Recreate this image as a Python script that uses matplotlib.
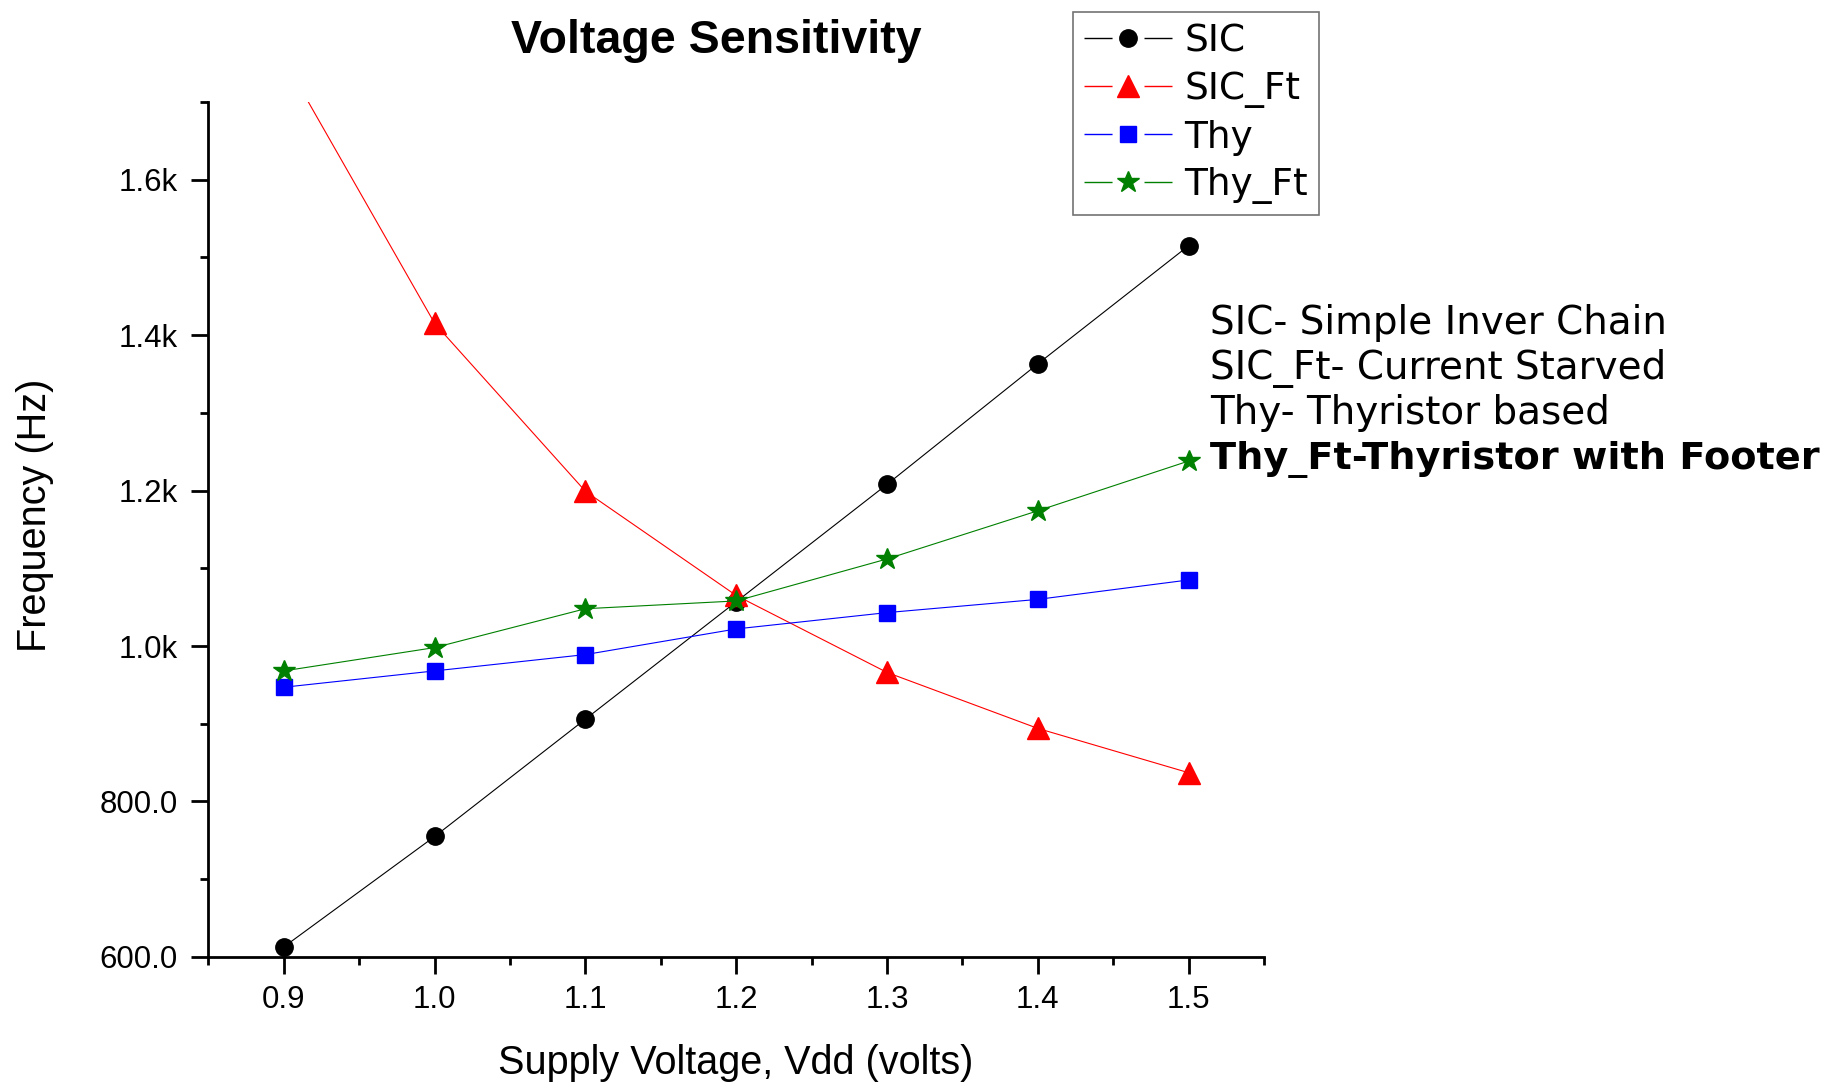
import matplotlib
matplotlib.use('Agg')
import matplotlib.pyplot as plt
from matplotlib.lines import Line2D
from matplotlib.ticker import MultipleLocator, FuncFormatter

vdd = [0.9, 1.0, 1.1, 1.2, 1.3, 1.4, 1.5]
sic = [613, 755, 906, 1057, 1208, 1363, 1515]
sic_ft = [1755, 1415, 1199, 1065, 966, 894, 837]
thy = [947, 968, 989, 1022, 1043, 1060, 1085]
thy_ft = [968, 998, 1048, 1058, 1112, 1174, 1238]

names = ['SIC', 'SIC_Ft', 'Thy', 'Thy_Ft']
notes = ['SIC- Simple Inver Chain', 'SIC_Ft- Current Starved',
         'Thy- Thyristor based', 'Thy_Ft-Thyristor with Footer']

plt.rcParams['font.family'] = 'Liberation Sans'

fig = plt.figure(figsize=(18.37, 10.84), dpi=100)
ax = fig.add_axes([0.1135, 0.1172, 0.5746, 0.7888])

styles = [('black', 'o', 12.5), ('red', '^', 16), ('blue', 's', 11.5), ('green', '*', 16.5)]
series = [sic, sic_ft, thy, thy_ft]
for vals, (c, m, ms) in zip(series, styles):
    ax.plot(vdd, vals, color=c, lw=0.8, marker=m, ms=ms, mec=c)

ax.set_xlim(0.85, 1.55)
ax.set_ylim(600, 1700)
ax.xaxis.set_major_locator(MultipleLocator(0.1))
ax.xaxis.set_minor_locator(MultipleLocator(0.05))
ax.yaxis.set_major_locator(MultipleLocator(200))
ax.yaxis.set_minor_locator(MultipleLocator(100))
ax.xaxis.set_major_formatter(FuncFormatter(lambda v, p: f'{v:.1f}'))
ax.yaxis.set_major_formatter(FuncFormatter(
    lambda v, p: f'{v / 1000:.1f}k' if v >= 1000 else f'{v:.1f}'))

for s in ['top', 'right']:
    ax.spines[s].set_visible(False)
for s in ['left', 'bottom']:
    ax.spines[s].set_linewidth(2)
ax.tick_params(which='major', direction='out', length=12, width=2, labelsize=22.5)
ax.tick_params(which='minor', direction='out', length=6, width=2)
ax.tick_params(axis='x', which='major', pad=8)
ax.tick_params(axis='y', which='major', pad=10)

fig.text(0.3898, 0.9508, 'Voltage Sensitivity', fontsize=33.5, fontweight='bold',
         ha='center', va='baseline')
fig.text(0.4003, 0.0092, 'Supply Voltage, Vdd (volts)', fontsize=28.5,
         ha='center', va='baseline')
fig.text(0.019, 0.5245, 'Frequency (Hz)', fontsize=28.5, rotation=90,
         ha='center', va='center')

# legend handles with the gap around the marker
handles = []
for n, (c, m, ms) in zip(names, styles):
    handles.append(Line2D([], [], color=c, lw=1, marker=m, ms=ms, mec=c,
                          linestyle=(0, (20.2, 23, 40)), label=n))
leg = fig.legend(handles=handles, loc='upper left',
                 bbox_to_anchor=(1073 / 1837, 1 - 12 / 1084),
                 bbox_transform=fig.transFigure, borderaxespad=0,
                 prop={'family': 'DejaVu Sans', 'size': 27},
                 handlelength=2.35, handletextpad=0.32, borderpad=0.3,
                 labelspacing=0.31, fancybox=False, framealpha=1)
leg.get_frame().set_edgecolor('0.45')
leg.get_frame().set_linewidth(1.2)

baselines = [333.5, 379, 423.5, 469.5]
for i, (t, b) in enumerate(zip(notes, baselines)):
    fig.text(1210 / 1837, 1 - b / 1084, t, family='DejaVu Sans',
             fontsize=27.5 if i == 3 else 28,
             fontweight='bold' if i == 3 else 'normal', ha='left', va='baseline')

fig.savefig('out.png', dpi=100)
